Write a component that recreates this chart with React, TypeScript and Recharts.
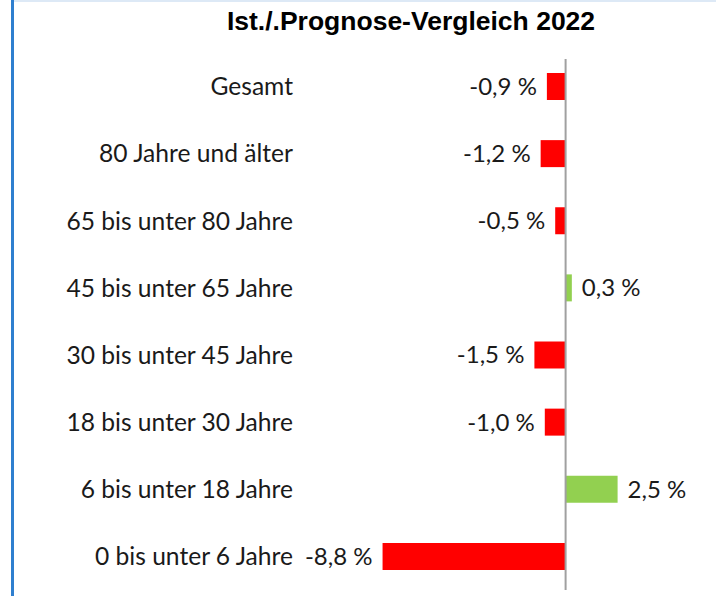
import { Bar, BarChart, Cell, LabelList, ReferenceLine, XAxis, YAxis } from "recharts";

const categories = [
  "Gesamt",
  "80 Jahre und älter",
  "65 bis unter 80 Jahre",
  "45 bis unter 65 Jahre",
  "30 bis unter 45 Jahre",
  "18 bis unter 30 Jahre",
  "6 bis unter 18 Jahre",
  "0 bis unter 6 Jahre",
];

const deviation = [-0.9, -1.2, -0.5, 0.3, -1.5, -1.0, 2.5, -8.8];

const chartData = categories.map((group, i) => ({ group, value: deviation[i] }));

const labelFont = "Lato, Carlito, 'Open Sans', sans-serif";

const formatPercent = (v: number) => `${v.toFixed(1).replace(".", ",")} %`;

function ValueLabel(props: any) {
  const { x, y, width, height, value } = props;
  const left = Math.min(x, x + width);
  const right = Math.max(x, x + width);
  const negative = value < 0;
  return (
    <text
      x={negative ? left - 10 : right + 10}
      y={y + height / 2}
      dy="0.35em"
      textAnchor={negative ? "end" : "start"}
      fill="#1a1a1a"
      fontSize={24}
      fontFamily={labelFont}
    >
      {formatPercent(value)}
    </text>
  );
}

function ZeroLine(props: any) {
  const { x1, y1, x2, y2 } = props;
  return <line x1={x1} y1={y1} x2={x2} y2={y2 + 6} stroke="#a0a0a0" strokeWidth={2} />;
}

export default function App() {
  return (
    <div
      style={{
        position: "fixed",
        left: 0,
        top: 0,
        width: 716,
        height: 596,
        background: "#ffffff",
        overflow: "hidden",
      }}
    >
      <div style={{ position: "absolute", left: 11, top: 0, width: 3, height: 596, background: "#2f7fcf" }} />
      <div style={{ position: "absolute", left: 14, top: 0, width: 702, height: 2, background: "#dde9f6" }} />
      <div
        style={{
          position: "absolute",
          left: 0,
          top: 6,
          width: 822,
          textAlign: "center",
          fontFamily: "'Liberation Sans', Arial, sans-serif",
          fontWeight: "bold",
          fontSize: 26.5,
          color: "#000",
        }}
      >
        Ist./.Prognose-Vergleich 2022
      </div>
      <BarChart
        width={716}
        height={596}
        data={chartData}
        layout="vertical"
        margin={{ top: 53, right: 25.6, bottom: 6, left: 0 }}
        barSize={27}
      >
        <XAxis type="number" domain={[-12, 6]} hide />
        <YAxis
          type="category"
          dataKey="group"
          width={316}
          axisLine={false}
          tickLine={false}
          tickSize={0}
          tickMargin={23}
          interval={0}
          tick={{ fill: "#1a1a1a", fontSize: 24.6, fontFamily: labelFont }}
        />
        <ReferenceLine x={0} shape={ZeroLine} />
        <Bar dataKey="value" isAnimationActive={false}>
          {chartData.map((d) => (
            <Cell key={d.group} fill={d.value < 0 ? "#ff0000" : "#92d050"} />
          ))}
          <LabelList dataKey="value" content={ValueLabel} />
        </Bar>
      </BarChart>
    </div>
  );
}
